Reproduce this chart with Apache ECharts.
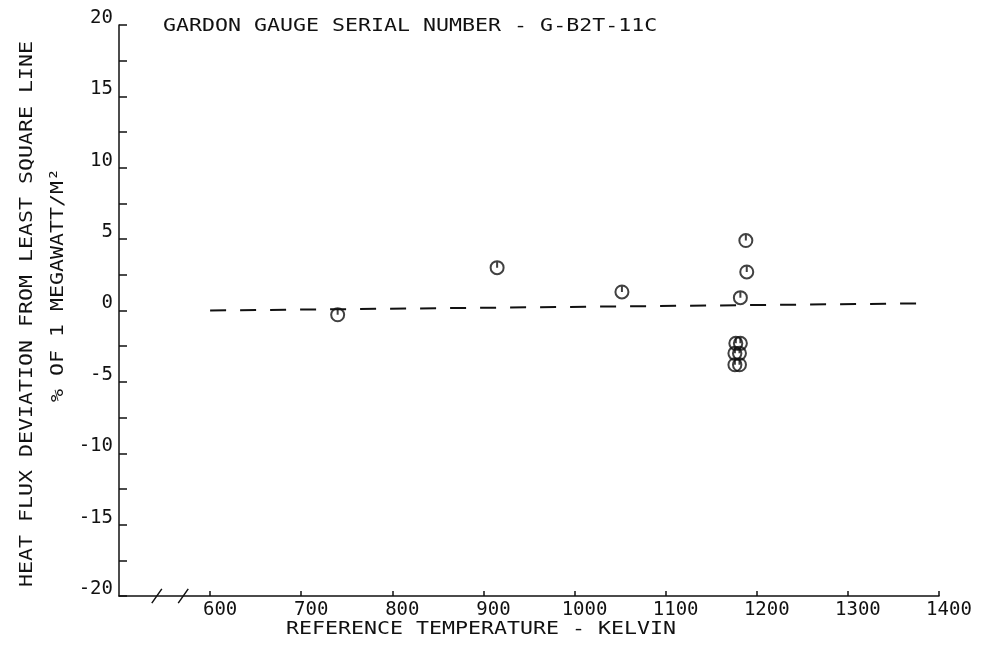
<!DOCTYPE html>
<html>
<head>
<meta charset="utf-8">
<script src="https://cdn.jsdelivr.net/npm/echarts@6/dist/echarts.min.js"></script>
<style>
  html, body { margin: 0; padding: 0; background: #fff; }
  #chart { width: 981px; height: 646px; }
</style>
</head>
<body>
<div id="chart"></div>
<script>
// measured points: reference temperature (K) vs deviation (%)
const tempK = [740, 915, 1052, 1188, 1189, 1182, 1177, 1182, 1176, 1181, 1176, 1181]
const deviation = [-0.3, 3.0, 1.3, 4.9, 2.7, 0.9, -2.3, -2.3, -3.0, -3.0, -3.8, -3.8]

// least square line end points
const fitTemp = [600, 1382]
const fitDev = [0.0, 0.5]

const xTicks = [600, 700, 800, 900, 1000, 1100, 1200, 1300, 1400]
const yTicks = [-20, -15, -10, -5, 0, 5, 10, 15, 20]

// axis break slashes (two short strokes just right of the y axis)
const breakX = [536, 547, null, 565, 576]
const breakY = [-20.5, -19.5, null, -20.5, -19.5]

const FONT = '"DejaVu Sans Mono", monospace'
const INK = '#111'

const chart = echarts.init(document.getElementById('chart'))

const symbolPath = 'path://M0,-10 L0,0 M-10,0 A10,10 0 1,0 10,0 A10,10 0 1,0 -10,0 Z'

chart.setOption({
  animation: false,
  grid: { left: 119, right: 42, top: 25, bottom: 50 },
  xAxis: {
    type: 'value',
    min: 500,
    max: 1400,
    interval: 100,
    splitLine: { show: false },
    axisLine: { onZero: false, lineStyle: { color: INK, width: 1.5 } },
    axisTick: { inside: true, length: 5, customValues: xTicks, lineStyle: { color: INK, width: 1.5 } },
    axisLabel: {
      customValues: xTicks,
      formatter: v => String(v),
      color: INK,
      fontFamily: FONT,
      fontSize: 19,
      margin: 5,
      padding: [0, 0, 0, 20]
    }
  },
  yAxis: {
    type: 'value',
    min: -20,
    max: 20,
    interval: 5,
    splitLine: { show: false },
    axisLine: { onZero: false, lineStyle: { color: INK, width: 1.5 } },
    axisTick: { inside: true, length: 8, lineStyle: { color: INK, width: 1.5 } },
    minorTick: { show: true, splitNumber: 2, length: 8, lineStyle: { color: INK, width: 1.5 } },
    axisLabel: {
      customValues: yTicks,
      formatter: v => String(v),
      color: INK,
      fontFamily: FONT,
      fontSize: 19,
      lineHeight: 14,
      margin: 6,
      verticalAlign: 'bottom'
    }
  },
  graphic: [
    {
      type: 'text',
      x: 163, y: 17,
      scaleX: 1.2,
      style: { text: 'GARDON GAUGE SERIAL NUMBER - G-B2T-11C', fill: INK, font: '18px ' + FONT }
    },
    {
      type: 'text',
      x: 481, y: 629,
      scaleX: 1.2,
      style: {
        text: 'REFERENCE TEMPERATURE - KELVIN', fill: INK, font: '18px ' + FONT,
        align: 'center', verticalAlign: 'middle'
      }
    },
    {
      type: 'text',
      x: 27, y: 314,
      rotation: Math.PI / 2,
      scaleX: 1.2,
      style: {
        text: 'HEAT FLUX DEVIATION FROM LEAST SQUARE LINE', fill: INK, font: '18px ' + FONT,
        align: 'center', verticalAlign: 'middle'
      }
    },
    {
      type: 'text',
      x: 58, y: 285,
      rotation: Math.PI / 2,
      scaleX: 1.2,
      style: {
        text: '% OF 1 MEGAWATT/M²', fill: INK, font: '18px ' + FONT,
        align: 'center', verticalAlign: 'middle'
      }
    }
  ],
  series: [
    {
      type: 'line',
      data: fitTemp.map((t, i) => [t, fitDev[i]]),
      showSymbol: false,
      lineStyle: { color: INK, width: 2, type: [16, 14] }
    },
    {
      type: 'line',
      data: breakX.map((t, i) => (t === null ? [null, null] : [t, breakY[i]])),
      connectNulls: false,
      clip: false,
      showSymbol: false,
      lineStyle: { color: INK, width: 1.5 }
    },
    {
      type: 'scatter',
      data: tempK.map((t, i) => [t, deviation[i]]),
      symbol: symbolPath,
      symbolSize: 13,
      itemStyle: { color: 'rgba(0,0,0,0)', borderColor: INK, borderWidth: 2 }
    }
  ]
})
</script>
</body>
</html>
